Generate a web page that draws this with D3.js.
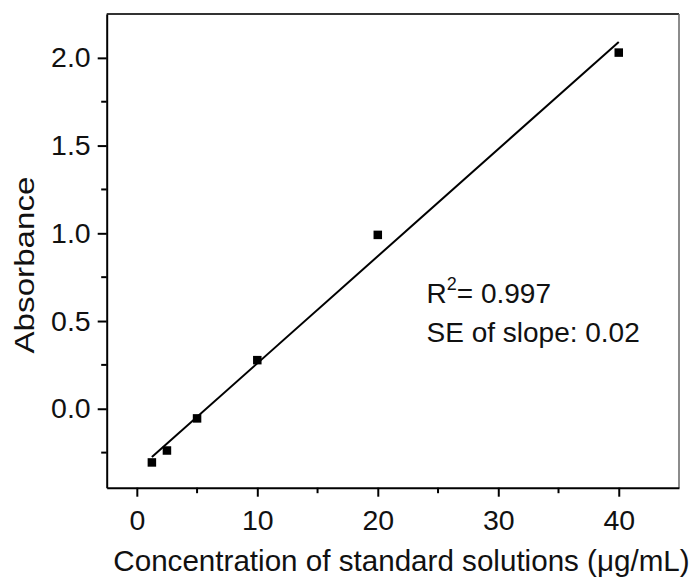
<!DOCTYPE html>
<html>
<head>
<meta charset="utf-8">
<title>Absorbance calibration</title>
<script src="https://d3js.org/d3.v7.min.js"></script>
<style>
  body { margin: 0; background: #fff; }
  svg text { font-family: "Liberation Sans", Arial, sans-serif; fill: #111; }
  .axis path, .axis line { stroke: #000; stroke-width: 2; }
</style>
</head>
<body>
<svg width="692" height="584"></svg>
<script>
// ----- data -----
var concentration = [1.25, 2.5, 5, 10, 20, 40];
var absorbance = [-0.306, -0.238, -0.055, 0.277, 0.991, 2.03];
var xTicks = [0, 10, 20, 30, 40];
var yTicks = [0.0, 0.5, 1.0, 1.5, 2.0];
var annotation = ["R", "2", "= 0.997", "SE of slope: 0.02"];

var svg = d3.select("svg");
var plotLeft = 106.7, plotRight = 679, plotTop = 14, plotBottom = 487.7;

var x = d3.scaleLinear().domain([-2.5, 45]).range([plotLeft, plotRight]);
var y = d3.scaleLinear().domain([-0.45, 2.25]).range([plotBottom, plotTop]);

// least squares fit of the points
var mx = d3.mean(concentration), my = d3.mean(absorbance);
var sxy = d3.sum(concentration, function(d, i) { return (d - mx) * (absorbance[i] - my); });
var sxx = d3.sum(concentration, function(d) { return (d - mx) * (d - mx); });
var slope = sxy / sxx, intercept = my - slope * mx;

// top and right frame
svg.append("line").attr("x1", plotLeft).attr("x2", plotRight).attr("y1", plotTop).attr("y2", plotTop)
    .attr("stroke", "#333").attr("stroke-width", 2);
svg.append("line").attr("x1", plotRight).attr("x2", plotRight).attr("y1", plotTop).attr("y2", plotBottom)
    .attr("stroke", "#666").attr("stroke-width", 1.5);

// minor ticks
svg.append("g").selectAll("line").data([5, 15, 25, 35]).enter().append("line")
    .attr("x1", function(d) { return x(d); }).attr("x2", function(d) { return x(d); })
    .attr("y1", plotBottom).attr("y2", plotBottom + 5.5)
    .attr("stroke", "#000").attr("stroke-width", 2);
svg.append("g").selectAll("line").data([-0.25, 0.25, 0.75, 1.25, 1.75]).enter().append("line")
    .attr("y1", function(d) { return y(d); }).attr("y2", function(d) { return y(d); })
    .attr("x1", plotLeft).attr("x2", plotLeft - 5.5)
    .attr("stroke", "#000").attr("stroke-width", 2);

svg.append("g").attr("class", "axis")
    .attr("transform", "translate(0," + plotBottom + ")")
    .call(d3.axisBottom(x).tickValues(xTicks).tickSizeInner(9).tickSizeOuter(0).tickPadding(13));
svg.append("g").attr("class", "axis")
    .attr("transform", "translate(" + plotLeft + ",0)")
    .call(d3.axisLeft(y).tickValues(yTicks).tickFormat(d3.format(".1f")).tickSizeInner(9).tickSizeOuter(0).tickPadding(7));
svg.selectAll(".axis text").style("font-size", "28.5px").attr("fill", "#111");

// axis titles
svg.append("text").attr("x", 401.5).attr("y", 571)
    .attr("text-anchor", "middle").style("font-size", "29.6px")
    .text("Concentration of standard solutions (\u03bcg/mL)");
svg.append("text").attr("transform", "translate(34,265) rotate(-90)")
    .attr("text-anchor", "middle").style("font-size", "27px")
    .attr("textLength", 177).attr("lengthAdjust", "spacingAndGlyphs")
    .text("Absorbance");

// fit line
var xr = d3.extent(concentration);
svg.append("line")
    .attr("x1", x(xr[0])).attr("y1", y(intercept + slope * xr[0]))
    .attr("x2", x(xr[1])).attr("y2", y(intercept + slope * xr[1]))
    .attr("stroke", "#000").attr("stroke-width", 2);

// points
var s = 8.5;
svg.append("g").selectAll("rect").data(concentration).enter().append("rect")
    .attr("x", function(d) { return x(d) - s / 2; })
    .attr("y", function(d, i) { return y(absorbance[i]) - s / 2; })
    .attr("width", s).attr("height", s).attr("fill", "#000");

// annotation
var t1 = svg.append("text").attr("x", 426.5).attr("y", 303).style("font-size", "28px");
t1.append("tspan").text(annotation[0]);
t1.append("tspan").attr("dy", -13).style("font-size", "18px").text(annotation[1]);
t1.append("tspan").attr("dy", 13).text(annotation[2]);
svg.append("text").attr("x", 426.5).attr("y", 342).style("font-size", "28px").text(annotation[3]);
</script>
</body>
</html>
